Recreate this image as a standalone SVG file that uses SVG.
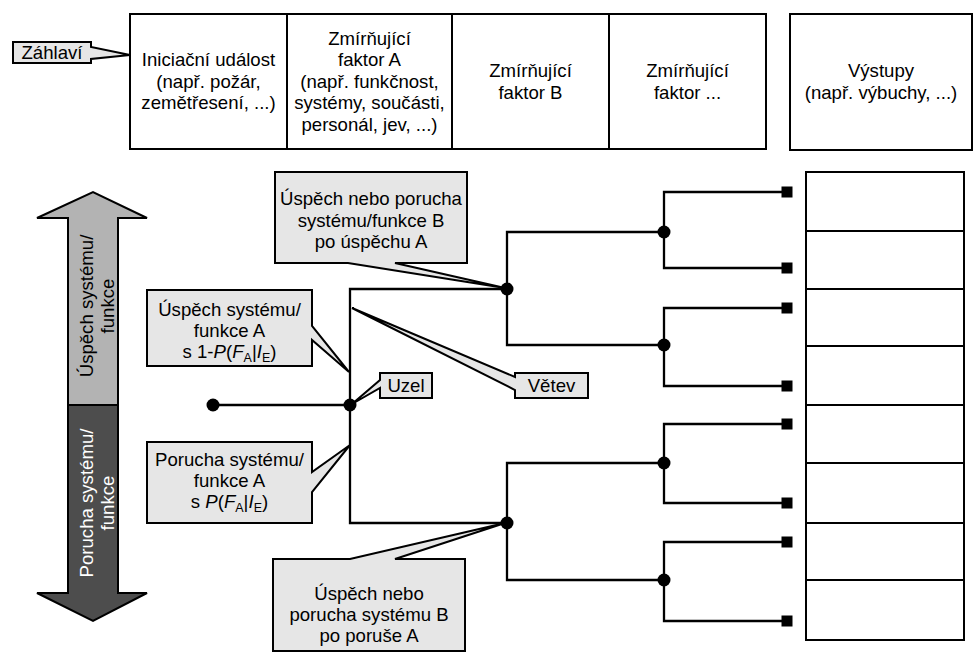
<svg xmlns="http://www.w3.org/2000/svg" width="975" height="655" viewBox="0 0 975 655">
  <style>
    text { font-family: "Liberation Sans", Arial, sans-serif; font-size: 18.6px; fill: #000; text-anchor: middle; }
    .cell { fill: #fff; stroke: #000; stroke-width: 2; }
    .callout { fill: #e6e6e6; stroke: #000; stroke-width: 2; stroke-linejoin: miter; }
    .wire { fill: none; stroke: #000; stroke-width: 2.3; }
    .dot { fill: #000; }
    .leaf { fill: #000; }
    .it { font-style: italic; }
    .sub { font-size: 12.5px; }
    .light { fill: #fff; }
  </style>

  <!-- header row of the event tree -->
  <g id="header-initiating">
    <rect class="cell" x="130" y="14" width="157" height="135"/>
    <text x="208.5" y="66">Iniciační událost</text>
    <text x="208.5" y="87.5">(např. požár,</text>
    <text x="208.5" y="109">zemětřesení, ...)</text>
  </g>
  <g id="header-factor-a">
    <rect class="cell" x="287" y="14" width="165" height="135"/>
    <text x="369.5" y="44.5">Zmírňující</text>
    <text x="369.5" y="66">faktor A</text>
    <text x="369.5" y="87.5">(např. funkčnost,</text>
    <text x="369.5" y="109">systémy, součásti,</text>
    <text x="369.5" y="130.5">personál, jev, ...)</text>
  </g>
  <g id="header-factor-b">
    <rect class="cell" x="452" y="14" width="157" height="135"/>
    <text x="530.5" y="77">Zmírňující</text>
    <text x="530.5" y="98.5">faktor B</text>
  </g>
  <g id="header-factor-n">
    <rect class="cell" x="609" y="14" width="157" height="135"/>
    <text x="687.5" y="77">Zmírňující</text>
    <text x="687.5" y="98.5">faktor ...</text>
  </g>
  <g id="header-outputs">
    <rect class="cell" x="790" y="14" width="182" height="136"/>
    <text x="881" y="77">Výstupy</text>
    <text x="881" y="98.5">(např. výbuchy, ...)</text>
  </g>

  <!-- callout naming the header row -->
  <g id="callout-header">
    <path class="callout" d="M13,42 H91 V47 L130,55 L91,59 V63 H13 Z"/>
    <text x="52" y="58.5">Záhlaví</text>
  </g>

  <!-- success / failure direction arrow -->
  <g id="arrow-success">
    <path d="M68,405 V218 H37 L93,192 L147,218 H118 V405 Z" fill="#b3b3b3" stroke="#000" stroke-width="2"/>
    <g transform="translate(93,306) rotate(-90)">
      <text x="0" y="0">Úspěch systému/</text>
      <text x="0" y="20.5">funkce</text>
    </g>
  </g>
  <g id="arrow-failure">
    <path d="M68,405 V593 H37 L93,621 L147,593 H118 V405 Z" fill="#4d4d4d" stroke="#000" stroke-width="2"/>
    <g transform="translate(93,503) rotate(-90)">
      <text class="light" x="0" y="0">Porucha systému/</text>
      <text class="light" x="0" y="20.5">funkce</text>
    </g>
  </g>

  <!-- branches of the tree -->
  <g id="connectors">
    <path class="wire" d="M213,405 H350"/>
    <path class="wire" d="M507,289 H350 V523 H507"/>
    <path class="wire" d="M664,232 H507 V345 H664"/>
    <path class="wire" d="M664,463 H507 V580 H664"/>
    <path class="wire" d="M787,192 H664 V268 H787"/>
    <path class="wire" d="M787,308 H664 V386 H787"/>
    <path class="wire" d="M787,424 H664 V503 H787"/>
    <path class="wire" d="M787,542 H664 V621 H787"/>
  </g>

  <!-- branching nodes -->
  <g id="node-start"><circle class="dot" cx="213" cy="405" r="6.5"/></g>
  <g id="node-a"><circle class="dot" cx="350" cy="405" r="6.5"/></g>
  <g id="node-b-success"><circle class="dot" cx="507" cy="289" r="6.5"/></g>
  <g id="node-b-failure"><circle class="dot" cx="507" cy="523" r="6.5"/></g>
  <g id="node-c1"><circle class="dot" cx="664" cy="232" r="6.5"/></g>
  <g id="node-c2"><circle class="dot" cx="664" cy="345" r="6.5"/></g>
  <g id="node-c3"><circle class="dot" cx="664" cy="463" r="6.5"/></g>
  <g id="node-c4"><circle class="dot" cx="664" cy="580" r="6.5"/></g>

  <!-- end states -->
  <g id="leaves">
    <rect class="leaf" x="781.5" y="186.5" width="11" height="11"/>
    <rect class="leaf" x="781.5" y="262.5" width="11" height="11"/>
    <rect class="leaf" x="781.5" y="302.5" width="11" height="11"/>
    <rect class="leaf" x="781.5" y="380.5" width="11" height="11"/>
    <rect class="leaf" x="781.5" y="418.5" width="11" height="11"/>
    <rect class="leaf" x="781.5" y="497.5" width="11" height="11"/>
    <rect class="leaf" x="781.5" y="536.5" width="11" height="11"/>
    <rect class="leaf" x="781.5" y="615.5" width="11" height="11"/>
  </g>

  <!-- output column -->
  <g id="outputs">
    <rect class="cell" x="806" y="172" width="158" height="59"/>
    <rect class="cell" x="806" y="231" width="158" height="58"/>
    <rect class="cell" x="806" y="289" width="158" height="57"/>
    <rect class="cell" x="806" y="346" width="158" height="59"/>
    <rect class="cell" x="806" y="405" width="158" height="58"/>
    <rect class="cell" x="806" y="463" width="158" height="60"/>
    <rect class="cell" x="806" y="523" width="158" height="57"/>
    <rect class="cell" x="806" y="580" width="158" height="60"/>
  </g>

  <!-- explanatory callouts -->
  <g id="callout-b-after-success">
    <path class="callout" d="M275,172 H467 V263 H395 L505,288 L348,263 H275 Z"/>
    <text x="371" y="205">Úspěch nebo porucha</text>
    <text x="371" y="226.5">systému/funkce B</text>
    <text x="371" y="248">po úspěchu A</text>
  </g>
  <g id="callout-a-success">
    <path class="callout" d="M147,290 H312 V326 L349,372 L312,340 V366 H147 Z"/>
    <text x="229.5" y="316">Úspěch systému/</text>
    <text x="229.5" y="337">funkce A</text>
    <text x="229.5" y="358">s 1-<tspan class="it">P</tspan>(<tspan class="it">F</tspan><tspan class="sub" dy="4">A</tspan><tspan dy="-4">|</tspan><tspan class="it">I</tspan><tspan class="sub" dy="4">E</tspan><tspan dy="-4">)</tspan></text>
  </g>
  <g id="callout-node">
    <path class="callout" d="M380,373 H432 V398 H380 V388 L352,404 L380,380 Z"/>
    <text x="406" y="392">Uzel</text>
  </g>
  <g id="callout-branch">
    <path class="callout" d="M515,373 H588 V398 H515 V390 L352,308 L515,377 Z"/>
    <text x="551.5" y="392">Větev</text>
  </g>
  <g id="callout-a-failure">
    <path class="callout" d="M147,442 H312 V472 L350,445 L312,492 V523 H147 Z"/>
    <text x="229.5" y="466">Porucha systému/</text>
    <text x="229.5" y="487">funkce A</text>
    <text x="229.5" y="508">s <tspan class="it">P</tspan>(<tspan class="it">F</tspan><tspan class="sub" dy="4">A</tspan><tspan dy="-4">|</tspan><tspan class="it">I</tspan><tspan class="sub" dy="4">E</tspan><tspan dy="-4">)</tspan></text>
  </g>
  <g id="callout-b-after-failure">
    <path class="callout" d="M273,559 H350 L505,523 L395,559 H465 V651 H273 Z"/>
    <text x="369" y="600">Úspěch nebo</text>
    <text x="369" y="621">porucha systému B</text>
    <text x="369" y="642">po poruše A</text>
  </g>
</svg>
